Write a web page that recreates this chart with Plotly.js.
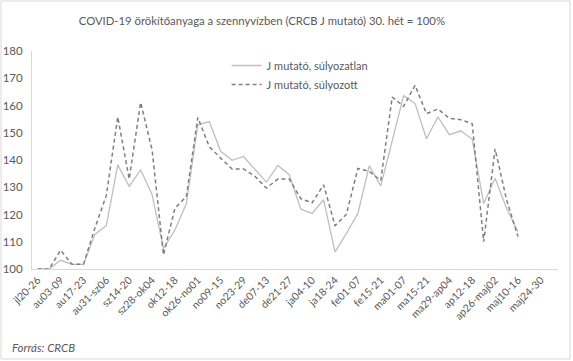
<!DOCTYPE html>
<html>
<head>
<meta charset="utf-8">
<script src="https://cdn.plot.ly/plotly-3.0.1.min.js"></script>
<style>
html,body{margin:0;padding:0;background:#fff;}
#chart{width:573px;height:361px;}
</style>
</head>
<body>
<div id="chart"></div>
<script>
// Weekly categories (week 30 of 2020 = 100%)
const weeks = [
  "jl20-26","jl27-au02","au03-09","au10-16","au17-23","au24-30","au31-sz06","sz07-13",
  "sz14-20","sz21-27","sz28-ok04","ok05-11","ok12-18","ok19-25","ok26-no01","no02-08",
  "no09-15","no16-22","no23-29","no30-de06","de07-13","de14-20","de21-27","de28-ja03",
  "ja04-10","ja11-17","ja18-24","ja25-31","fe01-07","fe08-14","fe15-21","fe22-28",
  "ma01-07","ma08-14","ma15-21","ma22-28","ma29-ap04","ap05-11","ap12-18","ap19-25",
  "ap26-maj02","maj03-09","maj10-16","maj17-23","maj24-30","maj31-jn06"
];
// Tick labels shown (every second week)
const tickLabels = weeks.filter((w, i) => i % 2 === 0);

const unweighted = [
  100, 100, 103.2, 101.7, 101.7, 112.7, 115.9, 138.2,
  130.3, 136.4, 127.3, 107.5, 114.3, 124, 152.9, 154.1,
  143.2, 139.9, 141.3, 136.7, 131.9, 138, 134.6, 122,
  120.4, 125.4, 106.3, 113.1, 120.4, 137.9, 130.5, 147,
  163.6, 160.7, 147.8, 155.8, 149.3, 150.7, 147.6, 124,
  133.3, 122.3, 113.7
];
const weighted = [
  100, 100, 106.9, 101.7, 101.7, 115, 127, 155.8,
  133, 161.1, 143.8, 105.2, 122.3, 126.6, 155.6, 144.9,
  140.7, 136.7, 136.7, 134, 129.7, 133, 133, 125.8,
  124.3, 130.9, 115.9, 120.1, 136.9, 135.8, 132.5, 163.1,
  159.7, 167.4, 157, 158.7, 155.3, 154.8, 153.3, 110,
  144.1, 125.4, 111.9
];

const seriesNames = ["J mutató, súlyozatlan", "J mutató, súlyozott"];
const titleText = "COVID-19 örökítőanyaga a szennyvízben (CRCB J mutató) 30. hét = 100%";
const sourceText = "Forrás: CRCB";

const font = "Lato, 'Open Sans', sans-serif";
const txt = "#595959";

const traces = [
  {
    x: weeks.slice(0, unweighted.length), y: unweighted, name: seriesNames[0],
    type: "scatter", mode: "lines",
    line: {color: "#BFBFBF", width: 1.3}
  },
  {
    x: weeks.slice(0, weighted.length), y: weighted, name: seriesNames[1],
    type: "scatter", mode: "lines",
    line: {color: "#7F7F7F", width: 1.5, dash: "4px,3px"}
  }
];

const layout = {
  width: 573, height: 361,
  margin: {l: 32, r: 15, t: 51, b: 92},
  paper_bgcolor: "#fff", plot_bgcolor: "#fff",
  font: {family: font, color: txt, size: 11},
  title: {text: titleText, font: {family: font, size: 11.3, color: txt}, x: 0.457, xanchor: "center", y: 0.943, yanchor: "middle"},
  showlegend: true,
  legend: {x: 0.37, y: 1.0, xanchor: "left", yanchor: "top", bgcolor: "rgba(0,0,0,0)",
           font: {family: font, size: 11, color: txt}, tracegroupgap: 0},
  xaxis: {
    type: "category", categoryorder: "array", categoryarray: weeks,
    range: [-0.5, weeks.length - 0.5],
    tickmode: "array", tickvals: tickLabels, ticktext: tickLabels,
    tickangle: -45, showgrid: false, zeroline: false,
    showline: true, linecolor: "#D9D9D9", linewidth: 1, ticks: "",
    tickfont: {family: font, size: 10.5, color: txt}
  },
  yaxis: {
    range: [100, 180], dtick: 10, tick0: 100, showgrid: false, zeroline: false,
    showline: true, linecolor: "#D9D9D9", linewidth: 1, ticks: "",
    ticklabelstandoff: 6,
    tickfont: {family: font, size: 11.5, color: txt}
  },
  annotations: [{
    text: sourceText, xref: "paper", yref: "paper", x: -0.042, y: -0.358,
    xanchor: "left", yanchor: "middle", showarrow: false,
    font: {family: font, size: 11.5, color: txt, style: "italic"}
  }],
  shapes: [{
    type: "rect", xref: "paper", yref: "paper",
    x0: -0.0589, x1: 1.0228, y0: -0.4128, y1: 1.2294,
    line: {color: "#D9D9D9", width: 1}
  }]
};

Plotly.newPlot("chart", traces, layout, {displayModeBar: false, staticPlot: true});
</script>
</body>
</html>
